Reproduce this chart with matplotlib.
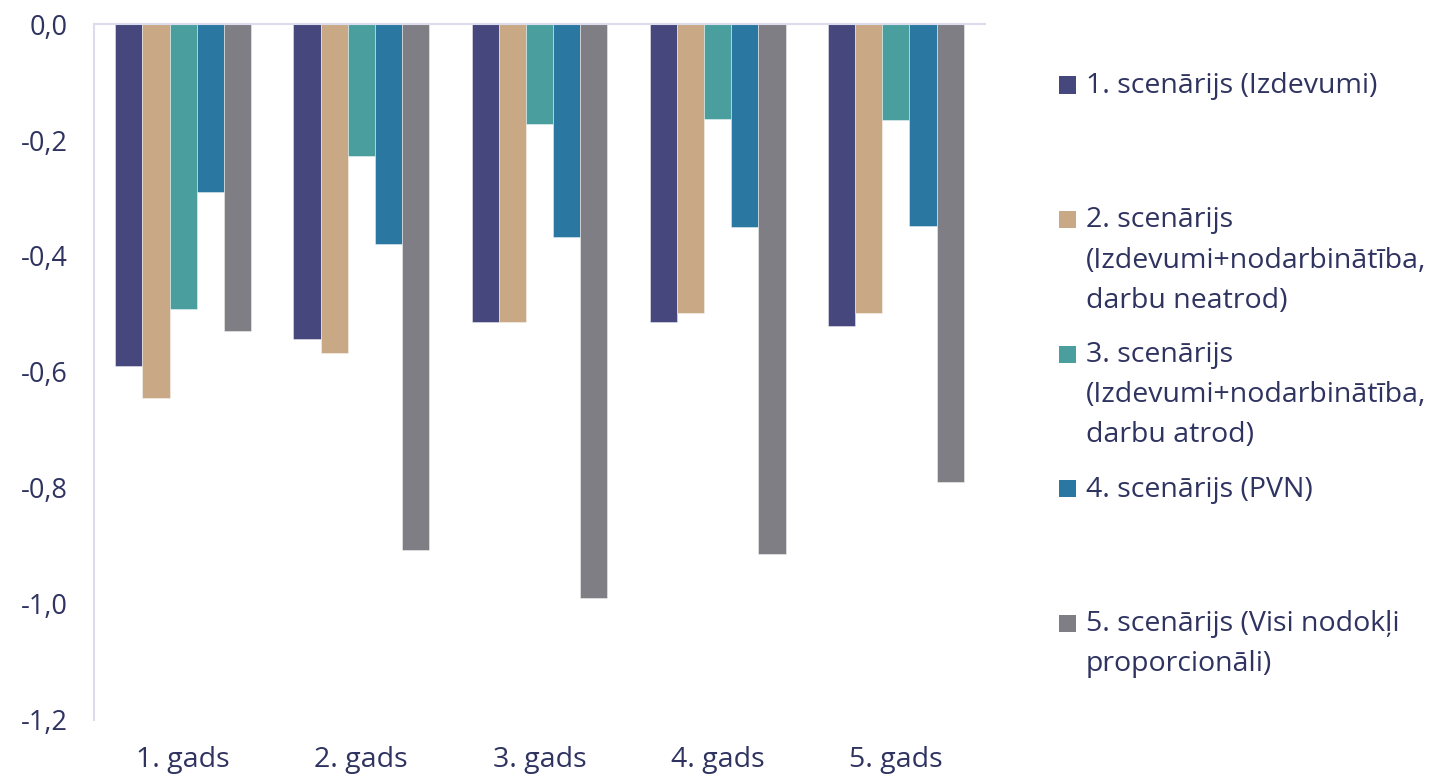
import numpy as np
import matplotlib
matplotlib.use("Agg")
import matplotlib.pyplot as plt
from matplotlib.patches import Rectangle
from matplotlib.ticker import FuncFormatter

plt.rcParams['font.family'] = ['Open Sans', 'DejaVu Sans']

# dati
gadi = ["1. gads", "2. gads", "3. gads", "4. gads", "5. gads"]
scenariji = [
    "1. scenārijs (Izdevumi)",
    "2. scenārijs\n(Izdevumi+nodarbinātība,\ndarbu neatrod)",
    "3. scenārijs\n(Izdevumi+nodarbinātība,\ndarbu atrod)",
    "4. scenārijs (PVN)",
    "5. scenārijs (Visi nodokļi\nproporcionāli)",
]
s1 = [-0.59, -0.543, -0.513, -0.513, -0.52]
s2 = [-0.644, -0.567, -0.513, -0.499, -0.498]
s3 = [-0.492, -0.227, -0.172, -0.164, -0.165]
s4 = [-0.289, -0.379, -0.367, -0.350, -0.348]
s5 = [-0.530, -0.907, -0.990, -0.913, -0.789]
vertibas = [s1, s2, s3, s4, s5]
krasas = ["#45477d", "#c9a985", "#4a9f9e", "#2a78a1", "#7f7e85"]

teksts = "#2f3360"
asis = "#dcdcef"

fig = plt.figure(figsize=(14.4, 7.77), dpi=100)
ax = fig.add_axes([0.0653, 0.0734, 0.6187, 0.8957])

x = np.arange(len(gadi))
w = 0.1525
for i, (v, c) in enumerate(zip(vertibas, krasas)):
    ax.bar(x + (i - 2) * w, v, w, color=c, edgecolor=(1, 1, 1, 0.5), linewidth=0.6, zorder=2)

ax.set_xlim(-0.5, 4.5)
ax.set_ylim(-1.2, 0)
ax.set_yticks(np.arange(-1.2, 0.01, 0.2))
ax.yaxis.set_major_formatter(FuncFormatter(lambda v, p: f"{v:.1f}".replace(".", ",").replace("-0,0", "0,0")))
ax.set_xticks(x)
ax.set_xticklabels(gadi)
ax.tick_params(axis='both', length=0, colors=teksts)
ax.tick_params(axis='y', pad=19, labelsize=19.5)
ax.tick_params(axis='x', pad=19, labelsize=20.5)

for s in ["right", "bottom"]:
    ax.spines[s].set_visible(False)
for s in ["left", "top"]:
    ax.spines[s].set_color(asis)
    ax.spines[s].set_linewidth(1.5)

# legenda
y0 = 85
dy = 134.5
for i, (lab, c) in enumerate(zip(scenariji, krasas)):
    yc = 1 - (y0 + i * dy) / 777
    fig.patches.append(Rectangle((1059 / 1440, yc - 8.5 / 777), 17 / 1440, 17 / 777,
                                 transform=fig.transFigure, facecolor=c, edgecolor='none'))
    fig.text(1086 / 1440, yc + 13 / 777, lab, fontsize=20.5, color=teksts, va='top', ha='left',
             linespacing=1.58)

fig.savefig("out.png", dpi=100)
